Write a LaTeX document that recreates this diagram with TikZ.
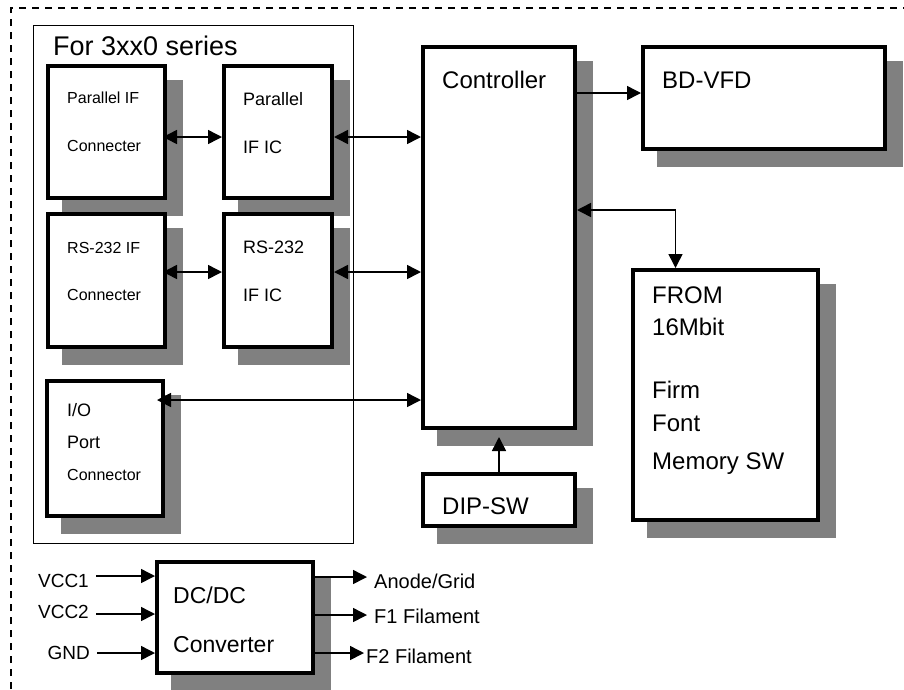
\documentclass[tikz,border=0pt]{standalone}
\usepackage{fontspec}
\setmainfont{Liberation Sans}
\usetikzlibrary{arrows.meta,shadows}
\definecolor{shadowgray}{RGB}{128,128,128}
\tikzset{
  blk/.style={draw,line width=4pt,fill=white,inner sep=0pt,anchor=north west,
    general shadow={shadow xshift=16pt,shadow yshift=-16pt,fill=shadowgray,draw=shadowgray}},
  txt/.style={anchor=base west,inner sep=0pt},
  ftitle/.style={txt,font=\fontsize{27}{32}\selectfont},
  fbig/.style={txt,font=\fontsize{24}{28}\selectfont},
  fdc/.style={txt,font=\fontsize{23}{28}\selectfont},
  fmid/.style={txt,font=\fontsize{18}{22}\selectfont},
  fsmall/.style={txt,font=\fontsize{16}{19}\selectfont},
  pin/.style={anchor=base east,inner xsep=7pt,inner ysep=0pt,font=\fontsize{19}{23}\selectfont},
  pout/.style={anchor=base west,inner xsep=7pt,inner ysep=0pt,font=\fontsize{20}{24}\selectfont},
  link/.style={->,line width=1.5pt},
  dbl/.style={<->,line width=1.5pt},
  >={Triangle[length=14pt,width=14pt]}
}
\begin{document}
\begin{tikzpicture}[x=1pt,y=-1pt]
\useasboundingbox (0,0) rectangle (904,689);
% outer border, open at right and bottom
\draw[line width=1.2pt,dash pattern=on 7pt off 6pt] (11,689) -- (11,8) -- (904,8);
% 3xx0 group
\draw[line width=1pt] (33,25) rectangle (353,543);
\node[ftitle] (series) at (53,55) {For 3xx0 series};
% blocks (top left corner of the line, width, height)
\node[blk,minimum width=117pt,minimum height=132pt] (pconn) at (46,64) {};
\node[blk,minimum width=108pt,minimum height=132pt] (pic) at (222,64) {};
\node[blk,minimum width=117pt,minimum height=133pt] (rconn) at (46,212) {};
\node[blk,minimum width=108pt,minimum height=133pt] (ric) at (222,212) {};
\node[blk,minimum width=116pt,minimum height=135pt] (ioconn) at (45,379) {};
\node[blk,minimum width=152pt,minimum height=381pt] (ctrl) at (421,45) {};
\node[blk,minimum width=242pt,minimum height=102pt] (vfd) at (641,45) {};
\node[blk,minimum width=185pt,minimum height=250pt] (from) at (631,268) {};
\node[blk,minimum width=152pt,minimum height=52pt] (dip) at (421,472) {};
\node[blk,minimum width=156pt,minimum height=111pt] (dcdc) at (155,560) {};
% texts in the blocks
\node[fsmall] (pconn1) at (67,103) {Parallel IF};
\node[fsmall] (pconn2) at (67,151) {Connecter};
\node[fmid] (pic1) at (243,105) {Parallel};
\node[fmid] (pic2) at (243,153) {IF IC};
\node[fsmall] (rconn1) at (67,253) {RS-232 IF};
\node[fsmall] (rconn2) at (67,300) {Connecter};
\node[fmid] (ric1) at (243,253) {RS-232};
\node[fmid] (ric2) at (243,301) {IF IC};
\node[fmid] (io1) at (67,416) {I/O};
\node[fmid] (io2) at (67,448) {Port};
\node[fsmall] (io3) at (67,480) {Connector};
\node[fbig] (ctrl1) at (442,88) {Controller};
\node[fbig] (vfd1) at (662,88) {BD-VFD};
\foreach \txt/\y [count=\i] in {FROM/303,16Mbit/335,Firm/398,Font/431,Memory SW/469}
  \node[fbig] (from\i) at (652,\y) {\txt};
\node[fbig] (dip1) at (442,514) {DIP-SW};
\node[fdc] (dc1) at (173,603) {DC/DC};
\node[fdc] (dc2) at (173,652) {Converter};
% power in and out
\node[pin] (vcc1) at (96,587) {VCC1};
\node[pin] (vcc2) at (96,618) {VCC2};
\node[pin] (gnd) at (97,659) {GND};
\node[pout] (anode) at (367,588) {Anode/Grid};
\node[pout] (fil1) at (367,623) {F1 Filament};
\node[pout,inner xsep=2pt] (fil2) at (364,663) {F2 Filament};
% rails
\coordinate (rpar) at (0,137);
\coordinate (rrs) at (0,272);
\coordinate (rio) at (0,400);
\coordinate (rvfd) at (0,93);
\coordinate (rfrom) at (0,210);
\coordinate (rv1) at (0,576);
\coordinate (rv2) at (0,614);
\coordinate (rgnd) at (0,653);
\coordinate (ran) at (0,577);
\coordinate (rf1) at (0,615);
\coordinate (rf2) at (0,653);
% buses
\draw[dbl,shorten <=-4pt] (pconn.east |- rpar) -- (pic.west |- rpar);
\draw[dbl] (pic.east |- rpar) -- (ctrl.west |- rpar);
\draw[dbl,shorten <=-4pt] (rconn.east |- rrs) -- (ric.west |- rrs);
\draw[dbl] (ric.east |- rrs) -- (ctrl.west |- rrs);
\draw[dbl,shorten <=-8pt] (ioconn.east |- rio) -- (ctrl.west |- rio);
\draw[link] (ctrl.east |- rvfd) -- (vfd.west |- rvfd);
\draw[dbl] (ctrl.east |- rfrom) -| ([xshift=-50pt]from.north);
\draw[link,shorten >=7pt] (dip.north) -- (ctrl.south);
% dc/dc
\draw[link] (vcc1.east |- rv1) -- (dcdc.west |- rv1);
\draw[link] (vcc2.east |- rv2) -- (dcdc.west |- rv2);
\draw[link] (gnd.east |- rgnd) -- (dcdc.west |- rgnd);
\draw[link] (dcdc.east |- ran) -- (anode.west |- ran);
\draw[link] (dcdc.east |- rf1) -- (fil1.west |- rf1);
\draw[link] (dcdc.east |- rf2) -- (fil2.west |- rf2);
\end{tikzpicture}
\end{document}
